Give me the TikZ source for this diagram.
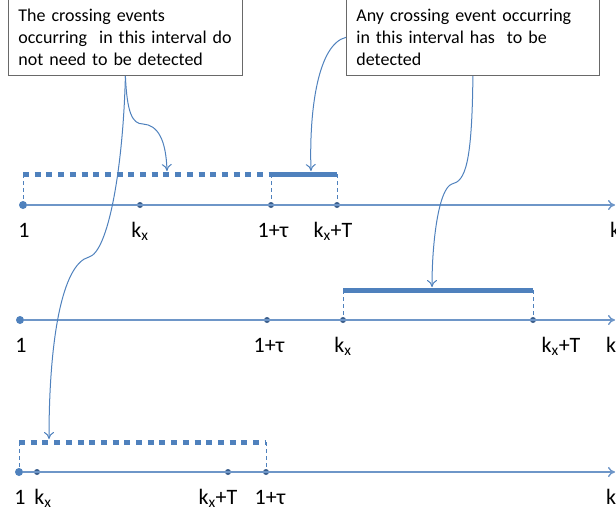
\documentclass[tikz,border=0pt]{standalone}
\usepackage{fontspec}
\setmainfont{Carlito}
\usetikzlibrary{arrows.meta, positioning}
\definecolor{lineblue}{RGB}{79,129,189}
\definecolor{axisblue}{RGB}{110,150,200}
\definecolor{dotblue}{RGB}{58,94,140}
\definecolor{boxgray}{RGB}{105,105,105}
\newcommand{\kx}{k\textsubscript{x}}

\begin{document}
\begin{tikzpicture}[
    > = {To[length=7pt, width=10pt]}, % open arrow heads
    x = 1pt, y = -1pt, % pixel units, y downwards
    line join = miter
  ]

  \tikzstyle{pt}=[circle, fill = dotblue, inner sep = 0pt, minimum size = 6pt]
  \tikzstyle{start}=[pt, fill = lineblue, minimum size = 8pt]
  \tikzstyle{lab}=[anchor = base, inner sep = 0pt, font = \fontsize{22}{26}\selectfont]
  \tikzstyle{axis}=[draw = axisblue, line width = 1.4pt, ->]
  \tikzstyle{tick}=[draw = lineblue, line width = 0.8pt, dash pattern = on 4pt off 3pt]
  \tikzstyle{dotbar}=[draw = lineblue, line width = 5pt, dash pattern = on 6pt off 5.7pt]
  \tikzstyle{bar}=[draw = lineblue, line width = 5pt]
  \tikzstyle{note}=[draw = boxgray, line width = 0.8pt, anchor = south west,
    align = left, inner xsep = 10pt, inner ysep = 10pt,
    font = \fontsize{18}{22}\selectfont]
  \tikzstyle{call}=[draw = lineblue, line width = 1pt, ->]

  \useasboundingbox (0,0) rectangle (616,514);

  % notes
  \node[note, text width = 214pt] (note1) at (8,76)
    {The crossing events\\occurring~ in this interval do\\not need to be detected};
  \node[note, text width = 233pt] (note2) at (346,76)
    {Any crossing event occurring\\in this interval has~ to be\\detected};

  % first axis
  \node[start] (a1) at (23,205) {}; \node[pt] (a2) at (140,205) {};
  \node[pt] (a3) at (271,205) {}; \node[pt] (a4) at (337,205) {};
  \coordinate (a5) at (615,205);
  \draw[axis] (a1) -- (a5);
  \node[lab] (la1) at (24,237) {1}; \node[lab] (la2) at (140,237) {\kx};
  \node[lab] (la3) at (273,237) {1+τ}; \node[lab] (la4) at (333,237) {\kx+T};
  \node[lab, anchor = base west] (la5) at (610,237) {k};
  \coordinate (s1) at (23,174); \coordinate (s3) at (271,174);
  \coordinate (s4) at (337,174);
  \draw[tick] (s1) -- (a1); \draw[tick] (s3) -- (a3); \draw[tick] (s4) -- (a4);
  \draw[dotbar] (s1) -- (s3); \draw[bar] (s3) -- (s4);

  % second axis
  \node[start] (b1) at (20,320) {}; \node[pt] (b2) at (267,320) {};
  \node[pt] (b3) at (343,320) {}; \node[pt] (b4) at (533,320) {};
  \coordinate (b5) at (615,320);
  \draw[axis] (b1) -- (b5);
  \node[lab] (lb1) at (21,352) {1}; \node[lab] (lb2) at (269,352) {1+τ};
  \node[lab] (lb3) at (343,352) {\kx}; \node[lab] (lb4) at (561,352) {\kx+T};
  \node[lab, anchor = base west] (lb5) at (606,352) {k};
  \coordinate (r3) at (343,290); \coordinate (r4) at (533,290);
  \draw[tick] (r3) -- (b3); \draw[tick] (r4) -- (b4);
  \draw[bar] (r3) -- (r4);

  % third axis
  \node[start] (c1) at (19,472) {}; \node[pt] (c2) at (37,472) {};
  \node[pt] (c3) at (228,472) {}; \node[pt] (c4) at (266,472) {};
  \coordinate (c5) at (615,472);
  \draw[axis] (c1) -- (c5);
  \node[lab] (lc1) at (20,504) {1}; \node[lab] (lc2) at (43,504) {\kx};
  \node[lab] (lc3) at (218,504) {\kx+T}; \node[lab] (lc4) at (270,504) {1+τ};
  \node[lab, anchor = base west] (lc5) at (606,504) {k};
  \coordinate (q1) at (19,442); \coordinate (q4) at (266,442);
  \draw[tick] (q1) -- (c1); \draw[tick] (q4) -- (c4);
  \draw[dotbar] (q1) -- (q4);

  % callouts
  \coordinate (t1) at (167,171); \coordinate (t2) at (49,439);
  \coordinate (t3) at (311,171); \coordinate (t4) at (432,287);
  \draw[call] (note1.south) .. controls (127,112) and (132,124) .. (143,124)
    .. controls (158,125) and (166,140) .. (t1);
  \draw[call] (note1.south) .. controls (123,170) and (108,252) .. (89,257)
    .. controls (62,264) and (49,340) .. (t2);
  \draw[call] (note2.west) .. controls (318,44) and (309,110) .. (t3);
  \draw[call] (note2.south) .. controls (472,165) and (465,181) .. (452,184)
    .. controls (439,188) and (432,240) .. (t4);

\end{tikzpicture}
\end{document}
